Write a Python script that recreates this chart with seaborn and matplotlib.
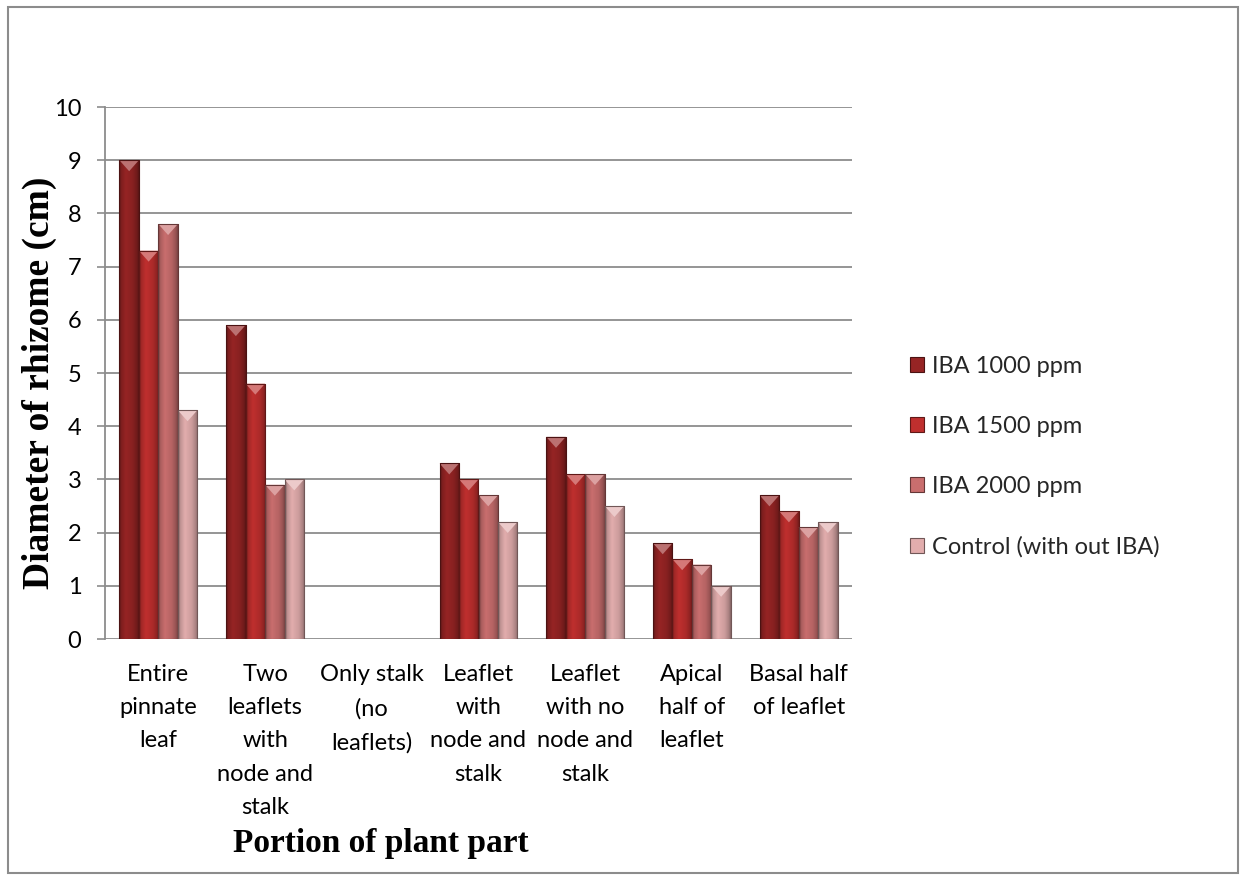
import numpy as np
import pandas as pd
import matplotlib
matplotlib.use("Agg")
import matplotlib.pyplot as plt
import matplotlib.colors as mcolors
from matplotlib.patches import Polygon, Rectangle, Patch
import seaborn as sns

# Plant-part categories (wrapped the way they appear under the axis)
parts = [
    "Entire\npinnate\nleaf",
    "Two\nleaflets\nwith\nnode and\nstalk",
    "Only stalk\n(no\nleaflets)",
    "Leaflet\nwith\nnode and\nstalk",
    "Leaflet\nwith no\nnode and\nstalk",
    "Apical\nhalf of\nleaflet",
    "Basal half\nof leaflet",
]
treatments = ["IBA 1000 ppm", "IBA 1500 ppm", "IBA 2000 ppm", "Control (with out IBA)"]

# Diameter of rhizome (cm) per treatment
iba_1000 = [9.0, 5.9, 0.0, 3.3, 3.8, 1.8, 2.7]
iba_1500 = [7.3, 4.8, 0.0, 3.0, 3.1, 1.5, 2.4]
iba_2000 = [7.8, 2.9, 0.0, 2.7, 3.1, 1.4, 2.1]
control = [4.3, 3.0, 0.0, 2.2, 2.5, 1.0, 2.2]

colors = ["#962424", "#BF2F2E", "#C96E6E", "#E2ADAD"]

series = [iba_1000, iba_1500, iba_2000, control]
df = pd.DataFrame({
    "part": np.tile(parts, len(treatments)),
    "treatment": np.repeat(treatments, len(parts)),
    "value": np.concatenate(series),
})

sns.set_theme(style="white")
plt.rcParams["font.family"] = ["Lato", "DejaVu Sans"]

W, H = 1246, 880
AX_L, AX_R, AX_T, AX_B = 105, 852, 107, 639
fig = plt.figure(figsize=(W / 100, H / 100), dpi=100)
ax = fig.add_axes([AX_L / W, 1 - AX_B / H, (AX_R - AX_L) / W, (AX_B - AX_T) / H])

sns.barplot(
    data=df, x="part", y="value", hue="treatment", order=parts,
    hue_order=treatments, palette=colors, width=0.73, saturation=1,
    edgecolor="#5a1414", linewidth=0.6, ax=ax, legend=False, zorder=3,
)

ax.set_ylim(0, 10)
ax.set_xlim(-0.5, len(parts) - 0.5)
xlim, ylim = ax.get_xlim(), ax.get_ylim()


def shade(rgb, f):
    rgb = np.asarray(rgb)
    if f >= 1:
        return rgb + (1 - rgb) * (f - 1)
    return rgb * f


# bevelled look: horizontal gradient inside each bar and a light notch on top
profile_x = np.linspace(0, 1, 60)
profile = np.interp(profile_x, [0, 0.12, 0.35, 0.7, 0.9, 1.0],
                    [0.62, 0.85, 1.0, 0.9, 0.75, 0.6])
px_per_unit = (AX_B - AX_T) / 10.0
for patch in ax.patches:
    h = patch.get_height()
    if h <= 0:
        continue
    x0, w = patch.get_x(), patch.get_width()
    base = np.array(mcolors.to_rgb(patch.get_facecolor()))
    img = np.array([[shade(base, f) for f in profile]])
    im = ax.imshow(img, extent=[x0, x0 + w, 0, h], aspect="auto",
                   zorder=3.1, interpolation="bilinear")
    im.set_clip_path(patch)
    d = 11 / px_per_unit
    tri = Polygon([[x0, h], [x0 + w, h], [x0 + w / 2, h - d]], closed=True,
                  facecolor=shade(base, 1.35), edgecolor="none", zorder=3.2)
    ax.add_patch(tri)
    ax.add_patch(Rectangle((x0, 0), w, h, facecolor="none",
                           edgecolor=shade(base, 0.5), linewidth=0.8, zorder=3.3))

ax.set_xlim(xlim)
ax.set_ylim(ylim)

FS = 17
# axes styling
ax.set_yticks(range(0, 11))
ax.grid(axis="y", color="#8c8c8c", linewidth=1.3, zorder=0)
ax.set_axisbelow(True)
for s in ["top", "right", "bottom"]:
    ax.spines[s].set_visible(False)
ax.spines["left"].set_color("#8c8c8c")
ax.spines["left"].set_linewidth(1.3)
ax.tick_params(axis="y", direction="out", length=6, width=1.2, color="#8c8c8c",
               labelsize=FS, pad=11, left=True, labelcolor="black")
ax.tick_params(axis="x", length=0, labelsize=FS, pad=18, labelcolor="black")
for lbl in ax.get_xticklabels():
    lbl.set_linespacing(1.72)
    lbl.set_verticalalignment("top")

ax.set_ylabel("Diameter of rhizome (cm)", fontsize=27, fontweight="bold",
              family="Liberation Serif", color="black")
ax.yaxis.set_label_coords((57 - AX_L) / (AX_R - AX_L), (AX_B - 383) / (AX_B - AX_T))
ax.set_xlabel("Portion of plant part", fontsize=24, fontweight="bold",
              family="Liberation Serif", color="black")
ax.xaxis.set_label_coords((381 - AX_L) / (AX_R - AX_L), -(828 - AX_B) / (AX_B - AX_T))

handles = [Patch(facecolor=c, edgecolor=shade(mcolors.to_rgb(c), 0.5), linewidth=0.8)
           for c in colors]
fig.legend(handles, treatments, loc="center left",
           bbox_to_anchor=(889 / W, 1 - 457 / H), frameon=False, fontsize=FS,
           handlelength=0.6, handleheight=0.6, handletextpad=0.3,
           labelspacing=1.65)

# outer chart border
fig.patches.append(Rectangle((8 / W, 7 / H), (1238 - 8) / W, (873 - 7) / H,
                             transform=fig.transFigure, facecolor="none",
                             edgecolor="#8c8c8c", linewidth=1.5))

fig.savefig("out.png", dpi=100)
